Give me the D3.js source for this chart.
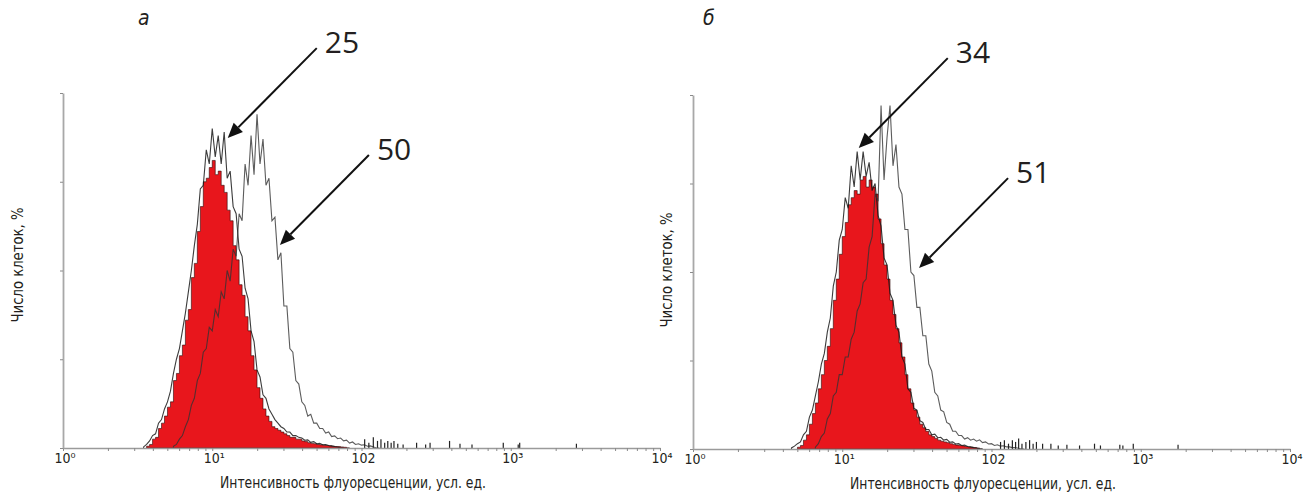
<!DOCTYPE html>
<html><head><meta charset="utf-8">
<script src="https://cdn.jsdelivr.net/npm/d3@7/dist/d3.min.js"></script>
<style>
body{margin:0;background:#fff}
svg{display:block}
.cond{font-family:"Liberation Sans Narrow","DejaVu Sans Condensed","Arial Narrow","Roboto",sans-serif;font-stretch:condensed}
</style></head>
<body><svg id="chart" width="1306" height="496"></svg>
<script>
// ---------- data ----------
const decadeTicks = [1, 10, 100, 1000, 10000];
const tickLabels = ["10\u2070", "10\u00b9", "102", "10\u00b3", "10\u2074"];
const yTickValues = [0, 25, 50, 75, 100];
const binStep = 0.02;               // channel width, log10 units
const xTitle = "Интенсивность флуоресценции, усл. ед.";
const yTitle = "Число клеток, %";
const panelLetters = ["а", "б"];

// panel а
const redAStart = 0.56;
const redA = [0.5,1,2.5,3,5.5,7,9,11.5,13,19,21,26,29,36,39,48,52,61,68,75,76,79,81,77,78,74,72,67,64,57,53,46,43,37,33,26,22,17,14,11,9,7.5,6,5.5,5,4.5,4,3.5,3,3,2.5,2.5,2,1.8,1.5,1.3,1.2,1,0.9,0.8,0.7,0.6,0.5,0.4,0.4,0.3,0.2,0];
const blackAStart = 0.54;
const blackA = [0.3,1,2,3.5,4,7,8,11,13,16,21,25,28,33,38,44,50,57,63,73,74,84,80,90,82,88,80,89,76,78,68,66,56,54,45,42,33,30,22,20,15,14,11,9.5,8,7,6,5.5,4.5,4.5,3.5,3.5,3,2.8,2.2,2.3,1.6,1.8,1.2,1.3,0.9,1,0.7,0.6,0.4,0.3,0];
const grayAStart = 0.74;
const grayA = [0.5,1,2.5,3.5,6,8,12,14,19,21,27,28,34,33,39,37,44,42,50,47,56,54,66,64,80,74,88,77,94,80,87,74,76,64,65,53,55,40,40,28,27,19,18,13,12,9,9.5,7,7,5.5,5.5,4.2,4.5,3.2,3.4,2.6,2.8,2,2.2,1.4,1.7,1,1.2,0.8,0.9,0.5,0.6,0.3,0];
const tailAValues = [105,112,120,128,135,143,150,158,165,175,190,234,269,288,389,457,550,891,1122,1148,2754];
const tailAHeights = [2.5,1.5,3,2,2.5,1.5,2,1.5,2,1.2,1,1.5,1,1.5,2,1.2,1,1.5,1,1.5,1.2];
const annotA = ["25", "50"];
const annotAX = [12.7, 28.4];
const annotAY = [87.3, 57.2];

// panel б
const redBStart = 0.70;
const redB = [0.5,1,2.5,4,7,10,13,17,21,25,29,34,42,48,55,60,64,69,71,73,72,76,77,74,76,74,72,65,58,52,48,42,38,34,30,26,21,17,13,11,9,7,6,5,4,3.5,3,2.5,2.2,2,1.8,1.5,1.3,1.1,1,0.9,0.7,0.6,0.5,0.4,0.3,0];
const blackBStart = 0.66;
const blackB = [0.3,0.8,1.5,2,4,5,9,11,15,19,24,27,33,37,46,50,59,62,71,68,80,74,84,76,84,77,81,73,75,66,63,54,52,44,42,35,33,26,24,17,16,11.5,11,8,7.5,5.5,5.5,4,4.2,3.2,3.3,2.5,2.7,1.9,2,1.4,1.5,1,1.1,0.7,0.6,0.4,0.3,0];
const grayBStart = 0.82;
const grayB = [0.5,1.5,3.5,4.5,8.5,10,15,16,21,21,26,26,31,33,39,41,47,48,57,60,72,70,97,76,88,97,80,86,74,72,62,62,50,49,40,40,32,32,24,22,16,15,11,10.5,7.5,7,5,5,3.8,3.8,2.8,3.2,2.5,2.8,2.2,2.6,1.8,2,1.4,1.5,1,1.2,0.8,0.9,0.6,0.6,0.4,0.4,0.2,0];
const tailBValues = [115,122,130,138,145,152,160,170,180,190,200,220,250,280,320,389,490,537,724,759,891,1778];
const tailBHeights = [2,2.5,1.5,2.5,2,3,1.5,2,2.5,1.5,2,1.5,1.5,1,1.2,1,1.5,1,1.2,1,1.5,1.2];
const annotB = ["34", "51"];
const annotBX = [12.9, 32.7];
const annotBY = [85.0, 51.1];

// ---------- drawing ----------
const svg = d3.select("#chart");

function panel(cfg) {
  const x = d3.scaleLog().domain([1, 1e4]).range([cfg.x0, cfg.x1]);
  const y = d3.scaleLinear().domain([0, 100]).range([cfg.yb, cfg.yt]);
  const g = svg.append("g");

  const pts = (start, vals) => {
    const p = [[Math.pow(10, start), 0]];
    vals.forEach((v, i) => p.push([Math.pow(10, start + i * binStep), v]));
    p.push([Math.pow(10, start + vals.length * binStep), 0]);
    return p;
  };
  const area = d3.area().x(d => x(d[0])).y0(y(0)).y1(d => y(d[1])).curve(d3.curveStepAfter);
  const line = d3.line().x(d => x(d[0])).y(d => y(d[1])).curve(d3.curveLinear);

  // red filled histogram
  g.append("path").attr("d", area(pts(cfg.redStart, cfg.red)))
    .attr("fill", "#e8161c").attr("stroke", "#2a0808").attr("stroke-width", 0.8).attr("stroke-opacity", 0.75);
  // outline histograms
  g.append("path").attr("d", line(pts(cfg.blackStart, cfg.black)))
    .attr("fill", "none").attr("stroke", "#1a1a1a").attr("stroke-width", 1.1).attr("stroke-opacity", 0.85);
  g.append("path").attr("d", line(pts(cfg.grayStart, cfg.gray)))
    .attr("fill", "none").attr("stroke", "#333").attr("stroke-width", 1.1).attr("stroke-opacity", 0.8);
  // sparse events in the tail
  g.selectAll(".tail").data(cfg.tailV).enter().append("line")
    .attr("x1", d => x(d)).attr("x2", d => x(d))
    .attr("y1", y(0)).attr("y2", (d, i) => y(cfg.tailH[i]))
    .attr("stroke", "#222").attr("stroke-width", 1.2);

  // axes
  const minor = [];
  for (let e = 0; e < 4; e++) for (let m = 1; m < 10; m++) minor.push(m * Math.pow(10, e));
  minor.push(1e4);
  const xa = g.append("g").attr("transform", `translate(0,${cfg.yb})`)
    .call(d3.axisBottom(x).tickValues(minor).tickSize(3).tickSizeOuter(0).tickFormat(""));
  xa.select(".domain").attr("stroke", "#9a9a9a").attr("stroke-width", 1.6);
  xa.selectAll(".tick line").attr("stroke", "#8a8a8a");
  const ya = g.append("g").attr("transform", `translate(${cfg.x0},0)`)
    .call(d3.axisLeft(y).tickValues(yTickValues).tickSize(3).tickSizeOuter(0).tickFormat(""));
  ya.select(".domain").attr("stroke", "#a8a8a8").attr("stroke-width", 1.8);
  ya.selectAll(".tick line").attr("stroke", "#8a8a8a");

  // tick labels
  g.selectAll(".tl").data(decadeTicks).enter().append("text")
    .attr("class", "cond").attr("x", d => x(d) + 2).attr("y", cfg.yb + 15)
    .attr("text-anchor", "middle").attr("font-size", 14).attr("fill", "#231f20")
    .text((d, i) => tickLabels[i]);

  // axis titles
  g.append("text").attr("class", "cond").attr("x", cfg.x0 + 290).attr("y", cfg.yb + 40)
    .attr("text-anchor", "middle").attr("font-size", 16).attr("fill", "#231f20")
    .attr("textLength", 266).attr("lengthAdjust", "spacingAndGlyphs").text(xTitle);
  g.append("text").attr("class", "cond")
    .attr("transform", `translate(${cfg.yTitleX},${cfg.yTitleY}) rotate(-90)`)
    .attr("text-anchor", "middle").attr("font-size", 16).attr("fill", "#231f20")
    .attr("textLength", 115).attr("lengthAdjust", "spacingAndGlyphs").text(yTitle);

  // panel letter
  g.append("text").attr("class", "cond").attr("x", cfg.letterX).attr("y", 25)
    .attr("font-size", 21).attr("font-style", "italic").attr("fill", "#231f20").text(cfg.letter);

  // arrows + labels
  cfg.annot.forEach((lab, i) => {
    const tx = x(cfg.annotX[i]), ty = y(cfg.annotY[i]);
    const sx = tx + 89, sy = ty - 90;
    const ang = Math.atan2(ty - sy, tx - sx);
    const L = 15, W = 6.5;
    const bx = tx - L * Math.cos(ang), by = ty - L * Math.sin(ang);
    g.append("line").attr("x1", sx).attr("y1", sy).attr("x2", bx).attr("y2", by)
      .attr("stroke", "#111").attr("stroke-width", 2);
    const px = -Math.sin(ang), py = Math.cos(ang);
    g.append("path").attr("d", `M${tx},${ty}L${bx + W * px},${by + W * py}L${bx - W * px},${by - W * py}Z`)
      .attr("fill", "#111");
    g.append("text").attr("x", tx + 97).attr("y", ty - 85)
      .attr("font-family", "'Open Sans','Noto Sans',sans-serif").attr("font-size", 30)
      .attr("fill", "#231f20").text(lab);
  });
}

panel({x0: 63, x1: 660, yb: 448, yt: 93, redStart: redAStart, red: redA, blackStart: blackAStart, black: blackA,
  grayStart: grayAStart, gray: grayA, tailV: tailAValues, tailH: tailAHeights,
  annot: annotA, annotX: annotAX, annotY: annotAY, letter: panelLetters[0], letterX: 138,
  yTitleX: 23, yTitleY: 265});
panel({x0: 693, x1: 1290, yb: 449, yt: 95, redStart: redBStart, red: redB, blackStart: blackBStart, black: blackB,
  grayStart: grayBStart, gray: grayB, tailV: tailBValues, tailH: tailBHeights,
  annot: annotB, annotX: annotBX, annotY: annotBY, letter: panelLetters[1], letterX: 703,
  yTitleX: 672, yTitleY: 270});
</script>
</body></html>
